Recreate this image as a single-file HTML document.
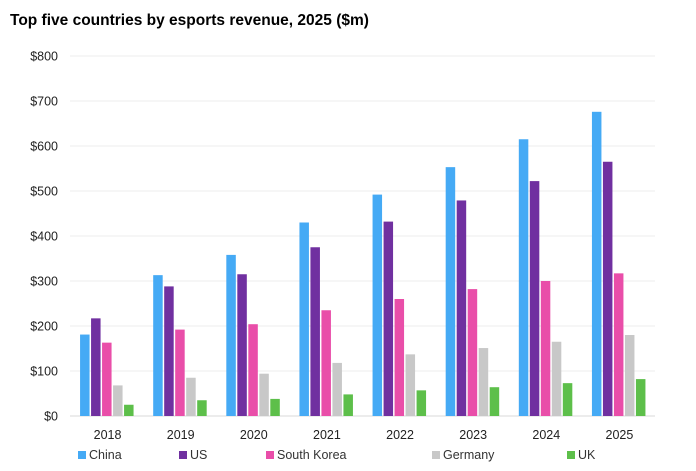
<!DOCTYPE html>
<html><head><meta charset="utf-8"><style>
body{margin:0;background:#fff;}
svg{display:block;font-family:"Liberation Sans",sans-serif;}
</style></head><body>
<svg width="696" height="471" id="c">
<text x="10" y="25" font-size="15.5" font-weight="bold" fill="#000">Top five countries by esports revenue, 2025 ($m)</text>
</svg>
<script>
const years=["2018","2019","2020","2021","2022","2023","2024","2025"];
const china=[181,313,358,430,492,553,615,676];
const us=[217,288,315,375,432,479,522,565];
const southKorea=[163,192,204,235,260,282,300,317];
const germany=[68,85,94,118,137,151,165,180];
const uk=[25,35,38,48,57,64,73,82];
const seriesNames=["China","US","South Korea","Germany","UK"];
const yTicks=[0,100,200,300,400,500,600,700,800];
const series=[china,us,southKorea,germany,uk];
const colors=["#45aaf5","#7030a0","#e94ea9","#c8c8c8","#5dbf4a"];
const svg=document.getElementById('c');const NS="http://www.w3.org/2000/svg";
const x0=70,x1=655,yb=416,yt=56,ymax=800;
const y=v=>yb-(v/ymax)*(yb-yt);
const bw=(x1-x0)/years.length;
function mk(t,a){const e=document.createElementNS(NS,t);for(const k in a)e.setAttribute(k,a[k]);svg.appendChild(e);return e;}
yTicks.forEach(t=>{
 const l=mk('line',{x1:x0,x2:x1,y1:y(t),y2:y(t),stroke:t===0?'#d9d9d9':'#ececec','stroke-width':1});
 
 
 const tx=mk('text',{x:58,y:y(t)+4.5,'text-anchor':'end','font-size':12.5,fill:'#222'});
 tx.textContent='$'+t;
 
 
});
years.forEach((yr,i)=>{
 const cx=x0+bw*(i+0.5);
 series.forEach((s,j)=>{
  const r=mk('rect',{x:cx-26.5+j*11,y:y(s[i]),width:9.5,height:yb-y(s[i]),fill:colors[j]});
  
  
 });
 const t=mk('text',{x:cx+1,y:439,'text-anchor':'middle','font-size':12.5,fill:'#222'});
 t.textContent=yr;
 
 
});
const lx=[78,179,266,432,567];
seriesNames.forEach((n,j)=>{
 const r=mk('rect',{x:lx[j],y:451,width:8,height:8,fill:colors[j]});
 
 
 const t=mk('text',{x:lx[j]+11,y:459,'font-size':12.5,fill:'#333'});
 t.textContent=n;
 
 
});
</script>
</body></html>
